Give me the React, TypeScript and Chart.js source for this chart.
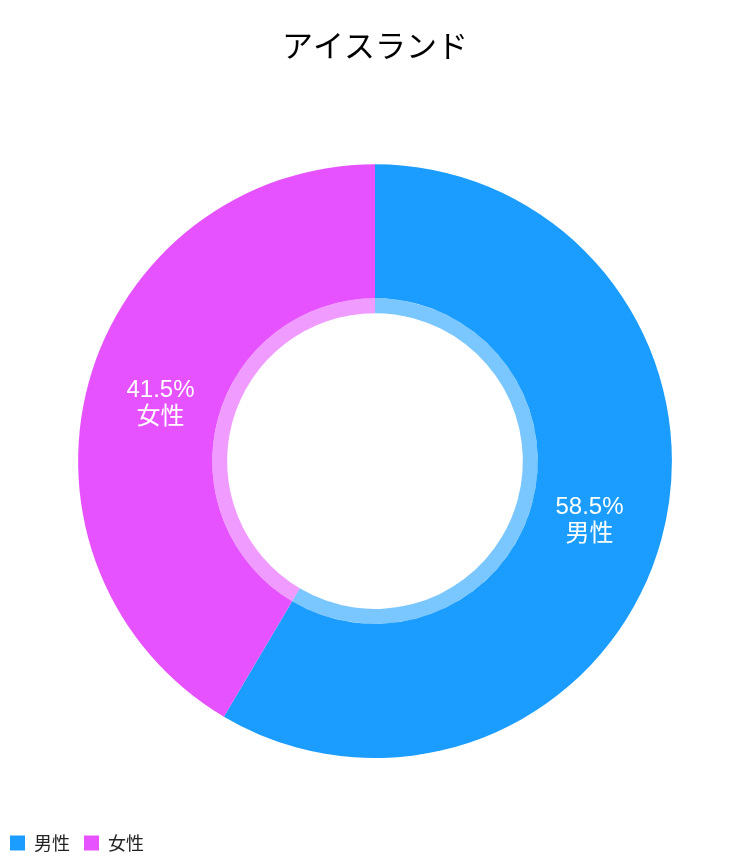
import React, { useEffect, useRef } from 'react';
import { Chart, registerables, Plugin } from 'chart.js';

Chart.register(...registerables);

const title = 'アイスランド';
const categories = ['男性', '女性'];
const shares = [58.5, 41.5];
const colors = ['#1a9dff', '#e652ff'];
const ringColors = ['rgba(26, 157, 255, 0.58)', 'rgba(230, 82, 255, 0.58)'];

const FONT = "'Noto Sans CJK JP', sans-serif";
const LABEL_FONT = "'Liberation Sans', 'Noto Sans CJK JP', sans-serif";

// writes "58.5%\n男性" in the middle of every slice of the outer ring
const sliceLabels: Plugin<'doughnut'> = {
  id: 'sliceLabels',
  afterDatasetsDraw(chart) {
    const { ctx } = chart;
    const outer = chart.getDatasetMeta(0);
    const inner = chart.getDatasetMeta(1);
    ctx.save();
    ctx.fillStyle = '#ffffff';
    ctx.font = `24px ${LABEL_FONT}`;
    ctx.textAlign = 'center';
    ctx.textBaseline = 'middle';
    outer.data.forEach((el: any, i) => {
      const { x, y, startAngle, endAngle, outerRadius } = el.getProps(
        ['x', 'y', 'startAngle', 'endAngle', 'outerRadius'],
        true
      );
      const innerR = (inner.data[i] as any).innerRadius;
      const mid = (startAngle + endAngle) / 2;
      const r = (outerRadius + innerR) / 2;
      const cx = x + Math.cos(mid) * r;
      const cy = y + Math.sin(mid) * r;
      ctx.fillText(`${shares[i]}%`, cx, cy - 12);
      ctx.fillText(categories[i], cx, cy + 15);
    });
    ctx.restore();
  },
};

const App: React.FC = () => {
  const chartRef = useRef<HTMLCanvasElement>(null);
  const chartInstance = useRef<Chart | null>(null);

  useEffect(() => {
    document.body.style.margin = '0';
    if (chartRef.current) {
      const ctx = chartRef.current.getContext('2d');
      if (ctx) {
        if (chartInstance.current) {
          chartInstance.current.destroy();
        }

        chartInstance.current = new Chart(ctx, {
          type: 'doughnut',
          data: {
            labels: categories,
            datasets: [
              {
                data: shares,
                backgroundColor: colors,
                borderWidth: 0,
                weight: 9,
              },
              {
                data: shares,
                backgroundColor: ringColors,
                borderWidth: 0,
                weight: 1,
              },
            ],
          },
          options: {
            animation: false,
            responsive: true,
            maintainAspectRatio: false,
            cutout: '49.8%',
            layout: { padding: { bottom: 4, left: -4, right: -4 } },
            plugins: {
              title: {
                display: true,
                text: title,
                color: '#000000',
                font: { family: FONT, size: 31, weight: 'normal' },
                padding: { top: 27, bottom: 100 },
              },
              legend: {
                position: 'bottom',
                align: 'start',
                // empty legend title only used as spacer above the items
                title: {
                  display: true,
                  text: '',
                  font: { size: 10 },
                  padding: { top: 50, bottom: 0 },
                },
                labels: {
                  boxWidth: 15,
                  boxHeight: 15,
                  padding: 14,
                  color: '#222222',
                  font: { family: FONT, size: 18 },
                  generateLabels: () =>
                    categories.map((c, i) => ({
                      text: c,
                      fillStyle: colors[i],
                      strokeStyle: colors[i],
                      lineWidth: 0,
                      index: i,
                      hidden: false,
                      fontColor: '#222222',
                    })),
                },
              },
              tooltip: { enabled: false },
            },
          },
          plugins: [sliceLabels],
        });
      }
    }

    return () => {
      if (chartInstance.current) {
        chartInstance.current.destroy();
      }
    };
  }, []);

  return (
    <div style={{ width: 750, height: 866, position: 'relative' }}>
      <canvas ref={chartRef}></canvas>
    </div>
  );
};

export default App;
